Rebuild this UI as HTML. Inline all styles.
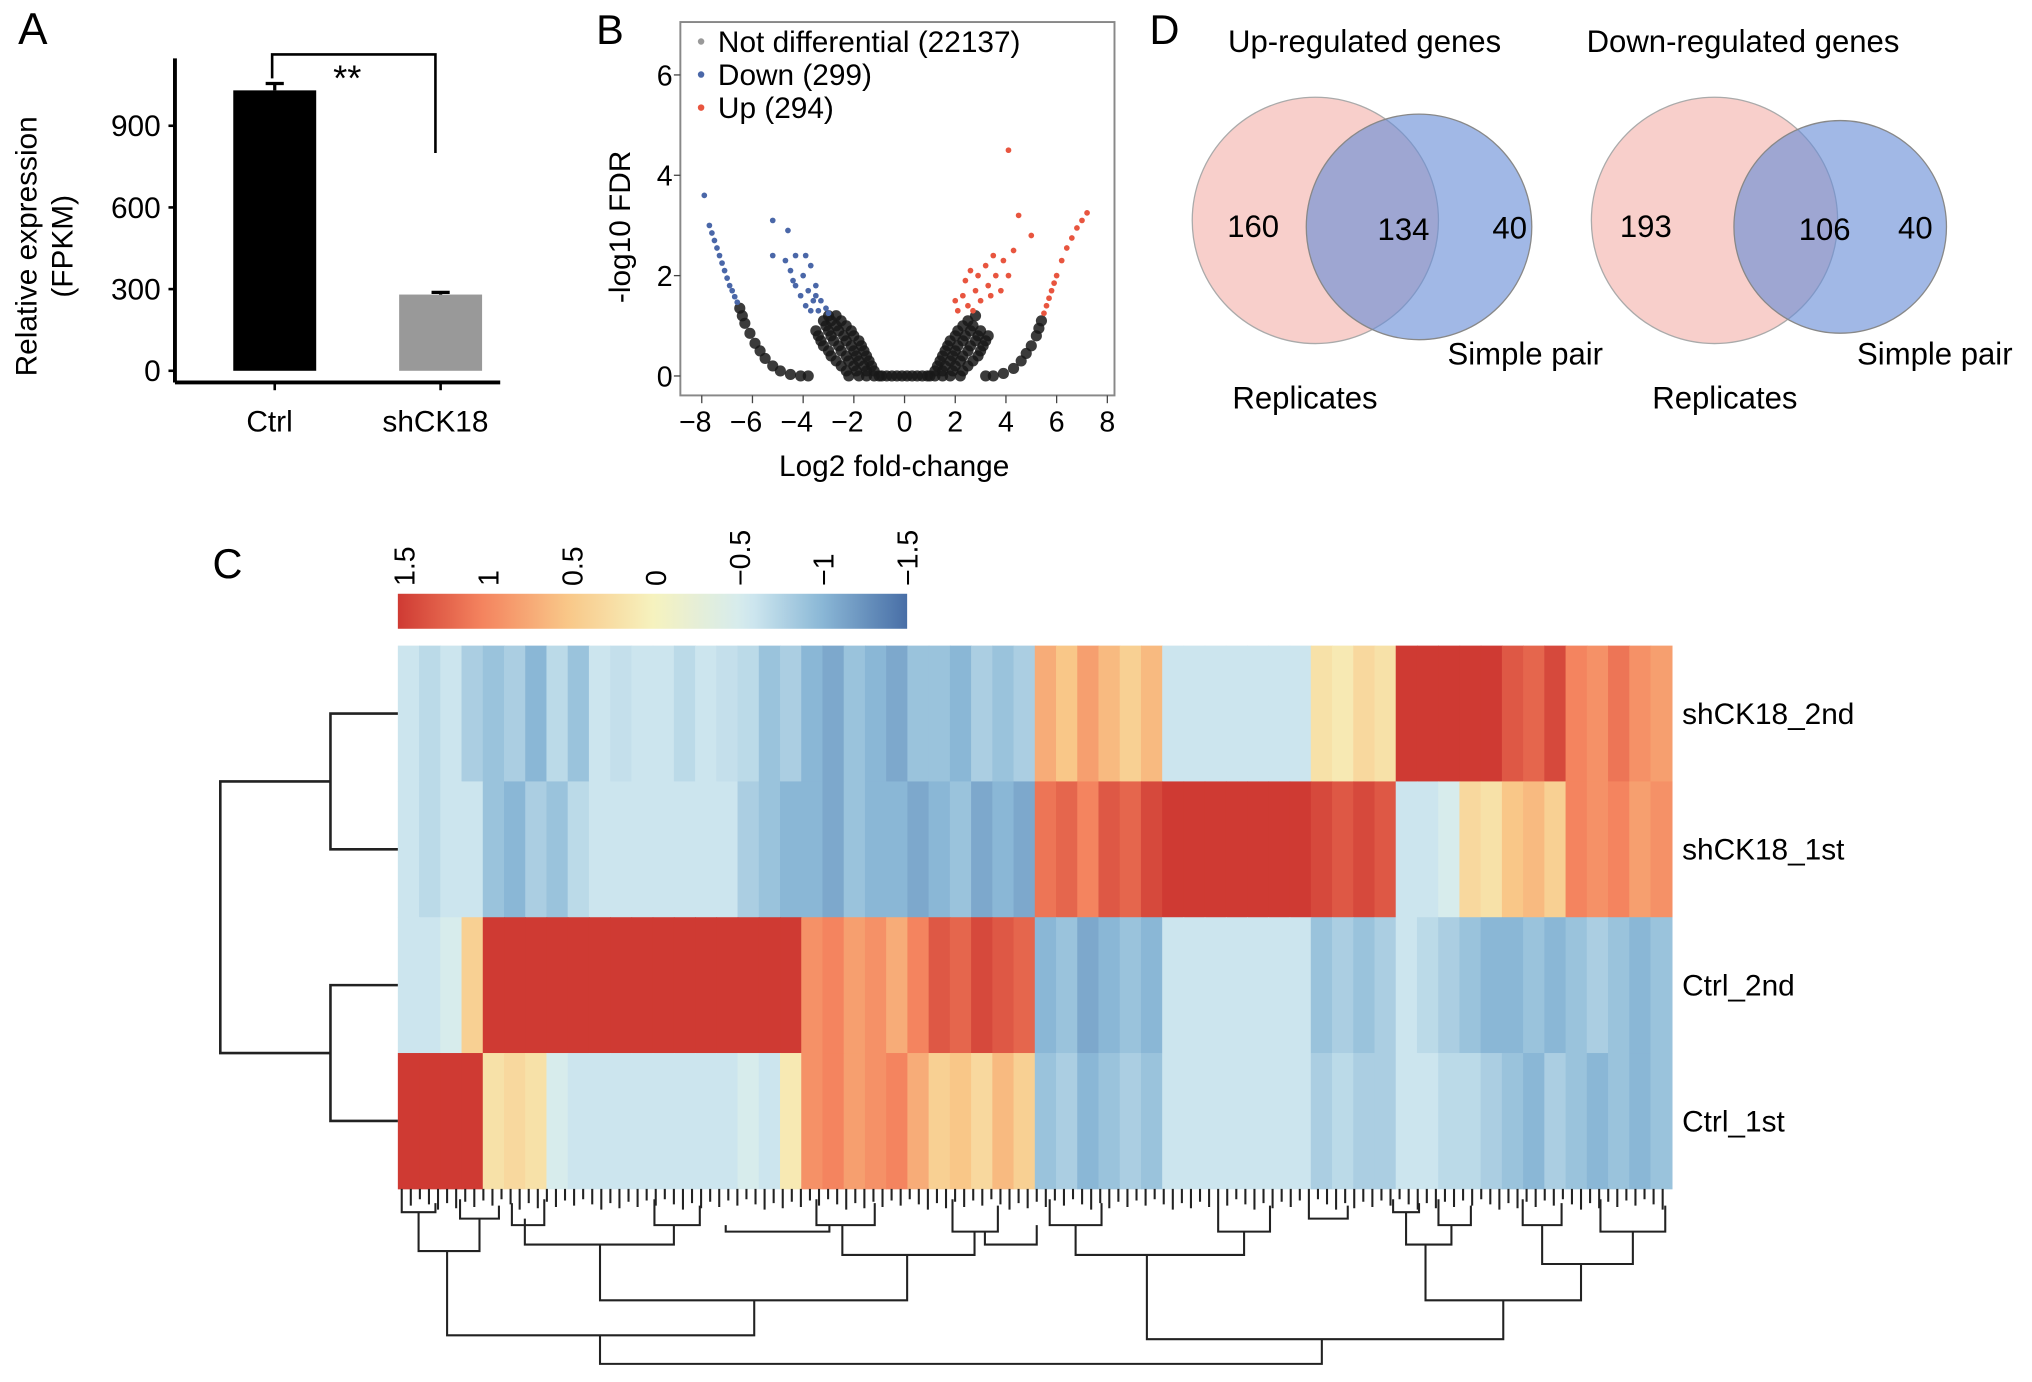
<!DOCTYPE html>
<html><head><meta charset="utf-8"><style>
html,body{margin:0;padding:0;background:#fff}
svg{display:block;font-family:"Liberation Sans",Arial,sans-serif}
</style></head><body>
<svg id="fig" width="2032" height="1382" viewBox="0 0 1568 1066" preserveAspectRatio="none" xmlns="http://www.w3.org/2000/svg">
<rect width="1568" height="1066" fill="#fff"/>
<g id="pa"></g>
<g id="pb"></g>
<g id="pc"></g>
<g id="pd"></g>
</svg>
<script>
// ---------- Panel A data ----------
const barCats = ["Ctrl","shCK18"];
const barVals = [1030, 280];
const barErr = [25, 8];
const barTicks = [0,300,600,900];
// ---------- Panel B data ----------
const volTicksX = [-8,-6,-4,-2,0,2,4,6,8];
const volTicksY = [0,2,4,6];
const nsX = [-1.0,-1.2,-1.5,-1.8,-2.2,-1.2,-1.5,-1.9,-2.3,-1.3,-1.6,-2.0,-2.5,-1.4,-1.8,-2.2,-2.7,-1.5,-1.9,-2.3,-2.9,-1.6,-2.0,-2.5,-3.0,-1.7,-2.1,-2.6,-3.2,-1.8,-2.3,-2.8,-3.3,-2.0,-2.4,-2.9,-3.4,-2.1,-2.6,-3.0,-3.5,-2.3,-2.7,-3.1,-2.5,-2.9,-3.2,-2.7,-3.0,
 1.0,1.2,1.5,1.8,2.2,1.2,1.5,1.9,2.3,1.3,1.6,2.0,2.5,1.4,1.8,2.2,2.7,1.5,1.9,2.3,2.9,1.6,2.0,2.5,3.0,1.7,2.1,2.6,3.1,1.8,2.3,2.8,3.2,2.0,2.4,2.9,3.3,2.1,2.6,3.0,2.3,2.7,2.5,2.8,
 -0.9,-0.7,-0.5,-0.3,-0.1,0.1,0.3,0.5,0.7,0.9,
 -6.5,-6.4,-6.3,-6.1,-5.9,-5.7,-5.5,-5.2,-4.9,-4.5,-4.1,-3.8,
 3.2,3.5,3.9,4.3,4.6,4.8,5.0,5.2,5.3,5.4];
const nsY = [0,0,0,0,0,0.1,0.1,0.1,0.1,0.2,0.2,0.2,0.2,0.3,0.3,0.3,0.3,0.4,0.4,0.4,0.4,0.5,0.5,0.5,0.5,0.6,0.6,0.6,0.6,0.7,0.7,0.7,0.7,0.8,0.8,0.8,0.8,0.9,0.9,0.9,0.9,1.0,1.0,1.0,1.1,1.1,1.1,1.2,1.2,
 0,0,0,0,0,0.1,0.1,0.1,0.1,0.2,0.2,0.2,0.2,0.3,0.3,0.3,0.3,0.4,0.4,0.4,0.4,0.5,0.5,0.5,0.5,0.6,0.6,0.6,0.6,0.7,0.7,0.7,0.7,0.8,0.8,0.8,0.8,0.9,0.9,0.9,1.0,1.0,1.1,1.2,
 0,0,0,0,0,0,0,0,0,0,
 1.35,1.2,1.05,0.85,0.65,0.5,0.35,0.2,0.1,0.03,0,0,
 0,0,0.05,0.15,0.3,0.45,0.6,0.8,0.95,1.1];
const downX = [-4.6,-5.2,-5.2,-4.7,-4.3,-3.9,-4.5,-4.0,-3.7,-4.3,-3.8,-3.5,-4.1,-3.6,-3.3,-3.9,-3.4,-3.1,-3.0,-3.7,-4.4,-3.5,-7.9,
 -7.7,-7.6,-7.5,-7.4,-7.3,-7.2,-7.1,-7.0,-6.9,-6.8,-6.7,-6.6];
const downY = [2.9,3.1,2.4,2.3,2.4,2.4,2.1,2.0,2.2,1.8,1.7,1.8,1.6,1.5,1.5,1.4,1.3,1.35,1.25,1.3,1.9,1.6,3.6,
 3.0,2.85,2.7,2.55,2.4,2.25,2.1,1.95,1.8,1.7,1.58,1.47];
const upX = [4.1,4.5,5.0,4.3,3.9,3.5,3.2,4.1,3.6,2.9,2.4,3.3,2.8,2.3,3.0,2.5,2.1,2.7,3.4,2.0,2.6,3.8,
 5.5,5.6,5.7,5.8,5.9,6.0,6.2,6.4,6.6,6.8,7.0,7.2];
const upY = [4.5,3.2,2.8,2.5,2.3,2.4,2.2,2.0,2.0,2.0,1.9,1.8,1.7,1.6,1.5,1.4,1.3,1.3,1.6,1.5,2.1,1.7,
 1.25,1.4,1.55,1.7,1.85,2.0,2.3,2.55,2.75,2.95,3.1,3.25];
// ---------- Panel C data ----------
const rowNames = ["shCK18_2nd","shCK18_1st","Ctrl_2nd","Ctrl_1st"];
const hmSh2 = [-0.6,-0.7,-0.6,-0.8, -0.9,-0.8,-1.0,-0.7,-0.9, -0.6,-0.65,-0.6,-0.6,-0.7,-0.6,-0.65, -0.7,-0.9,-0.8, -1.0,-1.1,-0.9,-1.0,-1.1,-0.9, -0.9,-1.0,-0.8,-0.9,-0.8, 0.7,0.5,0.8,0.6,0.4,0.6, -0.6,-0.6,-0.6,-0.6,-0.6,-0.6,-0.6, 0.2,0.1,0.3,0.2, 1.5,1.5,1.5, 1.5,1.5, 1.3,1.2,1.4, 1.0,0.9,1.1,0.9,0.8];
const hmSh1 = [-0.6,-0.7,-0.6,-0.6, -0.9,-1.0,-0.8,-0.9,-0.7, -0.6,-0.6,-0.6,-0.6,-0.6,-0.6,-0.6, -0.8,-0.9,-1.0, -1.0,-1.1,-0.9,-1.0,-1.0,-1.1, -1.0,-0.9,-1.1,-1.0,-1.1, 1.1,1.2,1.0,1.3,1.2,1.4, 1.5,1.5,1.5,1.5,1.5,1.5,1.5, 1.4,1.3,1.4,1.3, -0.6,-0.6,-0.5, 0.3,0.2, 0.5,0.6,0.4, 1.0,0.9,1.0,0.8,0.9];
const hmC2 = [-0.6,-0.6,-0.5,0.4, 1.5,1.5,1.5,1.5,1.5, 1.5,1.5,1.5,1.5,1.5,1.5,1.5, 1.5,1.5,1.5, 0.9,1.0,0.8,0.9,0.7,1.0, 1.3,1.2,1.4,1.3,1.2, -1.0,-0.9,-1.1,-1.0,-0.9,-1.0, -0.6,-0.6,-0.6,-0.6,-0.6,-0.6,-0.6, -0.9,-0.8,-0.9,-0.8, -0.6,-0.7,-0.8, -0.9,-1.0, -1.0,-0.9,-1.0, -0.9,-0.8,-0.9,-1.0,-0.9];
const hmC1 = [1.5,1.5,1.5,1.5, 0.2,0.3,0.2,-0.5,-0.6, -0.6,-0.6,-0.6,-0.6,-0.6,-0.6,-0.6, -0.5,-0.6,0.1, 0.9,1.0,0.8,0.9,1.0,0.7, 0.4,0.5,0.3,0.6,0.4, -0.9,-0.8,-1.0,-0.9,-0.8,-0.9, -0.6,-0.6,-0.6,-0.6,-0.6,-0.6,-0.6, -0.8,-0.7,-0.8,-0.8, -0.6,-0.6,-0.7, -0.7,-0.8, -0.9,-1.0,-0.8, -0.9,-1.0,-0.9,-1.0,-0.9];
const cbTicks = [1.5,1,0.5,0,-0.5,-1,-1.5];
const cbLabels = ["1.5","1","0.5","0","\u22120.5","\u22121","\u22121.5"];
// ---------- Panel D data ----------
const vennTitles = ["Up-regulated genes","Down-regulated genes"];
const vennOnlyRep = [160,193];
const vennBoth = [134,106];
const vennOnlyPair = [40,40];

const NS="http://www.w3.org/2000/svg";
function mk(parent,tag,attrs,text){const e=document.createElementNS(NS,tag);for(const k in attrs)e.setAttribute(k,attrs[k]);if(text!==undefined)e.textContent=text;parent.appendChild(e);return e;}

// ===== Panel A =====
const pa=document.getElementById('pa');
const ayS=v=>286-v*0.21;
let t=mk(pa,'text',{x:14,y:34,'font-size':34},'A');

let l=mk(pa,'line',{x1:135,y1:45,x2:135,y2:295,stroke:'#000','stroke-width':3});

l=mk(pa,'line',{x1:135,y1:295,x2:386,y2:295,stroke:'#000','stroke-width':3});

barTicks.forEach(v=>{mk(pa,'line',{x1:130,y1:ayS(v),x2:135,y2:ayS(v),stroke:'#000','stroke-width':2});
 t=mk(pa,'text',{x:124,y:ayS(v)+8,'font-size':23,'text-anchor':'end'},String(v));
 });
const bx=[212,340];
barVals.forEach((v,i)=>{
 const r=mk(pa,'rect',{x:bx[i]-32,y:ayS(v),width:64,height:ayS(0)-ayS(v),fill:i?'#999':'#000'});
 
 mk(pa,'line',{x1:bx[i],y1:ayS(v),x2:bx[i],y2:ayS(v+barErr[i]),stroke:'#000','stroke-width':2.5});
 mk(pa,'line',{x1:bx[i]-7,y1:ayS(v+barErr[i]),x2:bx[i]+7,y2:ayS(v+barErr[i]),stroke:'#000','stroke-width':2.5});
 mk(pa,'line',{x1:bx[i],y1:295,x2:bx[i],y2:301,stroke:'#000','stroke-width':2});
 t=mk(pa,'text',{x:bx[i]-4,y:333,'font-size':23,'text-anchor':'middle'},barCats[i]);
 
});
const br=mk(pa,'path',{d:`M210 ${ayS(barVals[0]+barErr[0])-4} V42 H336 V118`,fill:'none',stroke:'#000','stroke-width':2});

t=mk(pa,'text',{x:268,y:70,'font-size':28,'text-anchor':'middle'},'**');

t=mk(pa,'text',{transform:'translate(28,190) rotate(-90)','font-size':23,'text-anchor':'middle'},'Relative expression');

t=mk(pa,'text',{transform:'translate(56,190) rotate(-90)','font-size':23,'text-anchor':'middle'},'(FPKM)');


// ===== Panel B =====
const pb=document.getElementById('pb');
const bxS=v=>698+v*19.56, byS=v=>290-v*38.7;
t=mk(pb,'text',{x:460,y:34,'font-size':32},'B');

let fr=mk(pb,'rect',{x:525,y:17,width:335,height:288,fill:'none',stroke:'#888','stroke-width':1.5});

volTicksY.forEach(v=>{mk(pb,'line',{x1:520,y1:byS(v),x2:525,y2:byS(v),stroke:'#444'});
 t=mk(pb,'text',{x:519,y:byS(v)+8,'font-size':22,'text-anchor':'end'},String(v));
 });
volTicksX.forEach(v=>{mk(pb,'line',{x1:bxS(v),y1:305,x2:bxS(v),y2:311,stroke:'#444'});
 t=mk(pb,'text',{x:bxS(v)-(v<0?5:0),y:333,'font-size':22,'text-anchor':'middle'},v<0?'\u2212'+(-v):String(v));
 });
t=mk(pb,'text',{x:690,y:367,'font-size':23,'text-anchor':'middle'},'Log2 fold-change');

t=mk(pb,'text',{transform:'translate(486,175) rotate(-90)','font-size':23,'text-anchor':'middle'},'-log10 FDR');

function pts(xs,ys,col,r,name){const g=mk(pb,'g',{});
 xs.forEach((x,i)=>{const c=mk(g,'circle',{cx:bxS(x),cy:byS(ys[i]),r:r,fill:col});});}
pts(nsX,nsY,'rgba(25,25,25,0.85)',4.3,'not-differential-points');
pts(downX,downY,'#4a67a8',2.2,'down-points');
pts(upX,upY,'#e8553f',2.2,'up-points');
const leg=[['Not differential (22137)','#999'],['Down (299)','#4a67a8'],['Up (294)','#e8553f']];
leg.forEach((d,i)=>{const g=mk(pb,'g',{});
 mk(g,'circle',{cx:541,cy:32+i*25.5,r:2.5,fill:d[1]});
 mk(g,'text',{x:554,y:40+i*25.5,'font-size':23},d[0]);});

// ===== Panel C =====
const pc=document.getElementById('pc');
t=mk(pc,'text',{x:164,y:446,'font-size':32},'C');

const stops=[[1.5,[207,58,51]],[1,[244,132,95]],[0.5,[249,199,136]],[0,[246,242,190]],[-0.55,[212,235,241]],[-1,[138,183,214]],[-1.5,[72,110,166]]];
function col(v){v=Math.max(-1.5,Math.min(1.5,v));for(let i=0;i<stops.length-1;i++){const a=stops[i],b=stops[i+1];if(v<=a[0]&&v>=b[0]){const f=(a[0]-v)/(a[0]-b[0]);const c=a[1].map((x,k)=>Math.round(x+(b[1][k]-x)*f));return `rgb(${c})`;}}return 'rgb(0,0,0)';}
const cbX=v=>312+(1.5-v)*129.3;
const grad=mk(pc,'defs',{});const lg=mk(grad,'linearGradient',{id:'cbg',x1:0,x2:1,y1:0,y2:0});
for(let i=0;i<=30;i++){const v=1.5-i*0.1;mk(lg,'stop',{offset:i/30,'stop-color':col(v)});}
let cb=mk(pc,'rect',{x:307,y:458,width:393,height:27,fill:'url(#cbg)'});

cbTicks.forEach((v,i)=>{t=mk(pc,'text',{transform:`translate(${cbX(v)+8},452) rotate(-90)`,'font-size':22},cbLabels[i]);
 });
const rows=[hmSh2,hmSh1,hmC2,hmC1];
const hx0=307,hw=983,hy0=498,rh=104.75;
rows.forEach((arr,r)=>{const g=mk(pc,'g',{});
 const cw=hw/arr.length;
 arr.forEach((v,c)=>{const e=mk(g,'rect',{x:hx0+c*cw,y:hy0+r*rh,width:cw+0.6,height:rh+0.4,fill:col(v)});});
 t=mk(pc,'text',{x:1298,y:hy0+r*rh+rh/2+8,'font-size':23},rowNames[r]);
 
});
const rc=i=>hy0+i*rh+rh/2;
let rd=mk(pc,'path',{d:`M307 ${rc(0)} H255 V${rc(1)} H307 M307 ${rc(2)} H255 V${rc(3)} H307 M255 ${(rc(0)+rc(1))/2} H170 V${(rc(2)+rc(3))/2} H255`,fill:'none',stroke:'#222','stroke-width':2});

let d='';
function u(xl,xr,yt,ybl,ybr){d+=`M${xl} ${ybl} V${yt} H${xr} V${ybr} `;}
u(463,1020,1052,1030,1033);u(345,582,1030,965,1003);u(323,370,965,935,940);u(463,700,1003,960,968);
u(405,520,960,940,945);u(650,752,968,945,950);u(885,1160,1033,968,1003);u(830,960,968,945,950);
u(1100,1220,1003,960,975);u(1085,1120,960,935,945);u(1190,1260,975,945,950);
u(310,336,935,925,928);u(355,385,940,925,930);u(395,420,945,928,925);u(505,540,945,925,930);u(630,675,945,925,928);
u(735,770,950,925,930);u(810,850,945,925,928);u(940,980,950,925,930);u(1010,1040,940,925,930);u(1075,1095,935,925,928);
u(1110,1135,945,925,930);u(1175,1205,945,925,928);u(1235,1285,950,925,930);u(760,800,960,950,945);u(560,640,950,945,945);
for(let x=310;x<=1288;x+=7){d+=`M${x} 917 V${925+((x*7)%9)} `;}
let cd=mk(pc,'path',{d:d,fill:'none',stroke:'#222','stroke-width':1.6});


// ===== Panel D =====
const pd=document.getElementById('pd');
t=mk(pd,'text',{x:887,y:34,'font-size':32},'D');

const venn=[{px:1015,bx:1095,br:87},{px:1323,bx:1420,br:82}];
venn.forEach((v,i)=>{const g=mk(pd,'g',{});
 mk(g,'text',{x:v.px+38+(i?-16:0),y:40,'font-size':24,'text-anchor':'middle'},vennTitles[i]);
 let c=mk(g,'circle',{cx:v.px,cy:170,r:95,fill:'#f8cfcb',stroke:'#aaa','stroke-width':1});
 
 c=mk(g,'circle',{cx:v.bx,cy:175,r:v.br,fill:'rgba(104,140,215,0.62)',stroke:'#888','stroke-width':1});
 
 mk(g,'text',{x:v.px-48+(i?-5:0),y:183,'font-size':24,'text-anchor':'middle'},String(vennOnlyRep[i]));
 mk(g,'text',{x:v.bx-12,y:185,'font-size':24,'text-anchor':'middle'},String(vennBoth[i]));
 mk(g,'text',{x:v.bx+70-(i?12:0),y:184,'font-size':24,'text-anchor':'middle'},String(vennOnlyPair[i]));
 mk(g,'text',{x:v.px-8+(i?16:0),y:315,'font-size':24,'text-anchor':'middle'},'Replicates');
 mk(g,'text',{x:v.bx+82+(i?-9:0),y:281,'font-size':24,'text-anchor':'middle'},'Simple pair');
});
</script>
</body></html>
